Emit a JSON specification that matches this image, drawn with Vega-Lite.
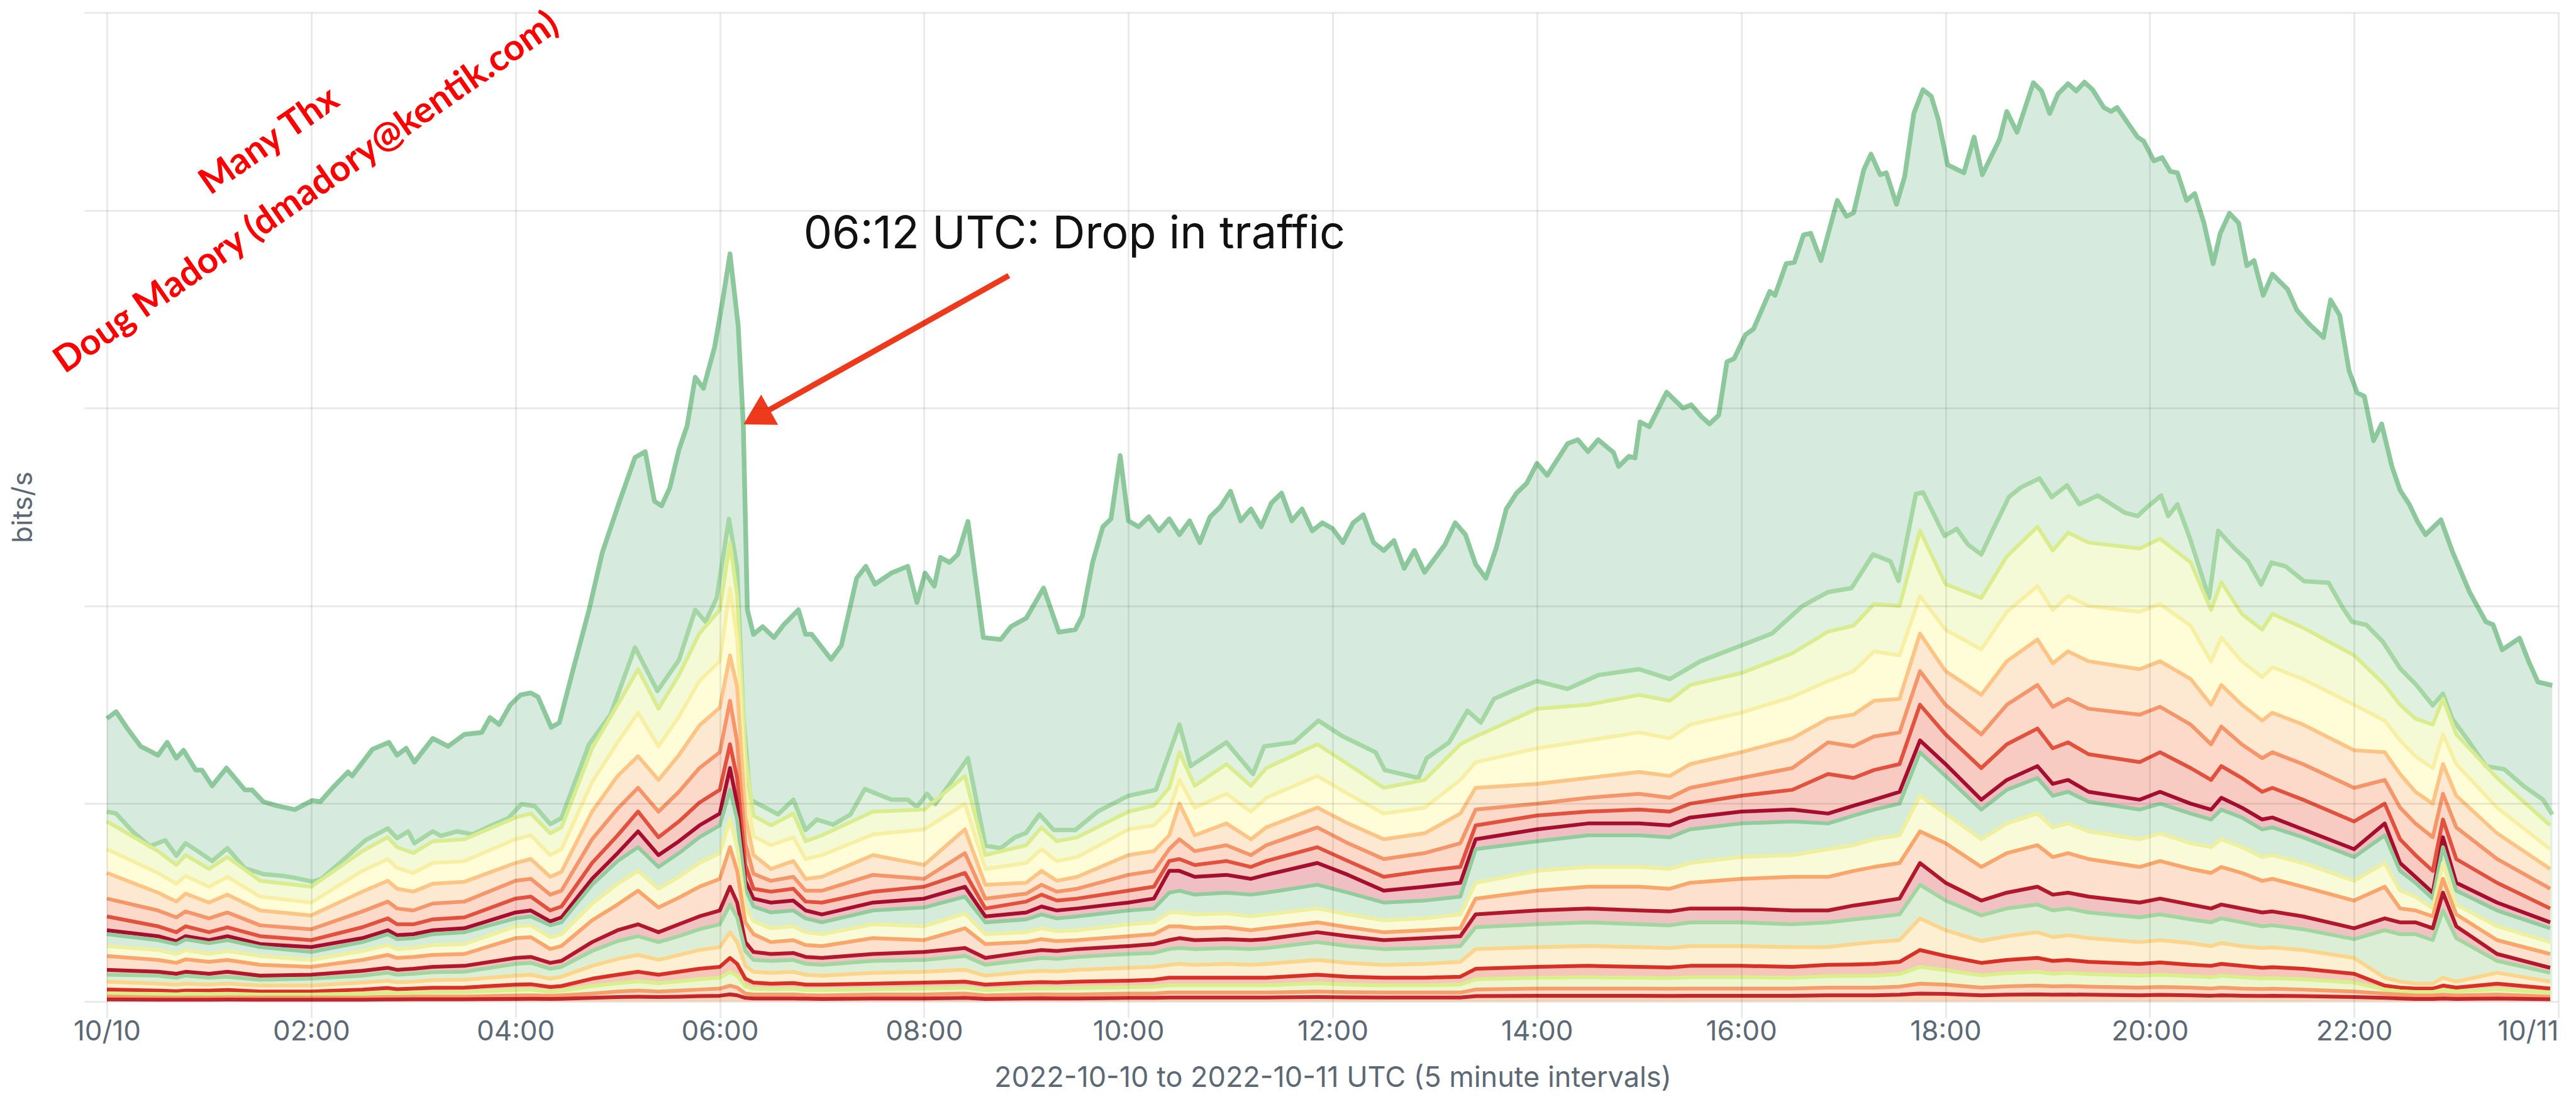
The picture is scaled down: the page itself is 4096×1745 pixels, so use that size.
{
"$schema":"https://vega.github.io/schema/vega-lite/v6.json",
"width":3898,"height":1573,
"autosize":{"type":"none"},
"padding":{"left":170,"top":20,"right":28,"bottom":152},
"background":"#ffffff",
"config":{"view":{"stroke":null}},
"datasets":{
"top":[{"h":0,"v":143},{"h":0.09,"v":146.5},{"h":0.2,"v":138},{"h":0.33,"v":129},{"h":0.5,"v":124.5},{"h":0.59,"v":131},{"h":0.68,"v":123},{"h":0.75,"v":127},{"h":0.87,"v":117},{"h":0.93,"v":117},{"h":1.03,"v":109},{"h":1.17,"v":118},{"h":1.35,"v":107},{"h":1.42,"v":107},{"h":1.53,"v":101},{"h":1.66,"v":99},{"h":1.84,"v":97},{"h":2.01,"v":101.6},{"h":2.09,"v":101},{"h":2.21,"v":108},{"h":2.36,"v":116},{"h":2.4,"v":114},{"h":2.6,"v":127.5},{"h":2.76,"v":131},{"h":2.84,"v":124.5},{"h":2.93,"v":128},{"h":3.01,"v":121},{"h":3.19,"v":133},{"h":3.34,"v":129},{"h":3.5,"v":135},{"h":3.67,"v":136},{"h":3.75,"v":143.5},{"h":3.84,"v":140},{"h":3.95,"v":150},{"h":4.05,"v":155},{"h":4.15,"v":156},{"h":4.22,"v":154},{"h":4.35,"v":138.6},{"h":4.43,"v":141},{"h":4.55,"v":165},{"h":4.72,"v":198},{"h":4.85,"v":227},{"h":5.02,"v":253},{"h":5.17,"v":275},{"h":5.27,"v":278},{"h":5.36,"v":253},{"h":5.43,"v":250.6},{"h":5.51,"v":259.6},{"h":5.6,"v":279},{"h":5.68,"v":291},{"h":5.76,"v":315.6},{"h":5.84,"v":310},{"h":5.95,"v":331},{"h":6.03,"v":355},{"h":6.1,"v":378},{"h":6.18,"v":341.7},{"h":6.23,"v":292},{"h":6.27,"v":198},{"h":6.33,"v":185.6},{"h":6.42,"v":189.5},{"h":6.53,"v":184},{"h":6.63,"v":190.7},{"h":6.77,"v":198},{"h":6.84,"v":185.6},{"h":6.9,"v":185.6},{"h":7.09,"v":173},{"h":7.19,"v":180},{"h":7.34,"v":214},{"h":7.43,"v":220},{"h":7.52,"v":211},{"h":7.68,"v":216.6},{"h":7.84,"v":220},{"h":7.93,"v":201.7},{"h":8.01,"v":216.6},{"h":8.1,"v":210},{"h":8.16,"v":224.5},{"h":8.25,"v":222},{"h":8.33,"v":226},{"h":8.43,"v":242.7},{"h":8.58,"v":184},{"h":8.75,"v":183},{"h":8.85,"v":189.5},{"h":9,"v":193.8},{"h":9.17,"v":209},{"h":9.32,"v":186.7},{"h":9.48,"v":188},{"h":9.55,"v":195},{"h":9.65,"v":222},{"h":9.75,"v":240},{"h":9.83,"v":244},{"h":9.92,"v":276},{"h":10,"v":243},{"h":10.1,"v":240},{"h":10.2,"v":245},{"h":10.3,"v":238},{"h":10.4,"v":244},{"h":10.5,"v":236},{"h":10.6,"v":243},{"h":10.7,"v":232},{"h":10.8,"v":245},{"h":10.9,"v":250},{"h":11,"v":258},{"h":11.1,"v":243},{"h":11.2,"v":249},{"h":11.3,"v":240},{"h":11.4,"v":252},{"h":11.5,"v":257},{"h":11.6,"v":243},{"h":11.7,"v":249},{"h":11.8,"v":238},{"h":11.9,"v":242},{"h":12,"v":239},{"h":12.1,"v":232},{"h":12.2,"v":242},{"h":12.3,"v":246},{"h":12.4,"v":232},{"h":12.5,"v":228},{"h":12.6,"v":233},{"h":12.7,"v":219},{"h":12.8,"v":228},{"h":12.9,"v":217},{"h":13,"v":224},{"h":13.1,"v":231},{"h":13.2,"v":242},{"h":13.3,"v":236},{"h":13.4,"v":221},{"h":13.5,"v":214},{"h":13.6,"v":229},{"h":13.7,"v":249},{"h":13.8,"v":257},{"h":13.9,"v":262},{"h":14,"v":272},{"h":14.1,"v":266},{"h":14.2,"v":274},{"h":14.3,"v":282},{"h":14.4,"v":284},{"h":14.5,"v":278},{"h":14.6,"v":284},{"h":14.75,"v":277.5},{"h":14.8,"v":270.5},{"h":14.9,"v":275.6},{"h":14.96,"v":274.8},{"h":15.01,"v":293},{"h":15.1,"v":290.6},{"h":15.27,"v":308},{"h":15.43,"v":300},{"h":15.51,"v":301.7},{"h":15.61,"v":295.7},{"h":15.69,"v":292},{"h":15.78,"v":296.5},{"h":15.86,"v":323.4},{"h":15.93,"v":325},{"h":16.04,"v":337},{"h":16.12,"v":340},{"h":16.28,"v":359},{"h":16.33,"v":357},{"h":16.44,"v":373},{"h":16.52,"v":373.7},{"h":16.61,"v":387.6},{"h":16.68,"v":388.4},{"h":16.78,"v":374.6},{"h":16.94,"v":405},{"h":17.03,"v":397},{"h":17.1,"v":398.7},{"h":17.2,"v":420.5},{"h":17.27,"v":428.4},{"h":17.36,"v":418},{"h":17.42,"v":419},{"h":17.52,"v":403},{"h":17.6,"v":417},{"h":17.69,"v":449},{"h":17.78,"v":461},{"h":17.86,"v":457.7},{"h":17.93,"v":445.8},{"h":18.02,"v":423},{"h":18.18,"v":419},{"h":18.28,"v":437},{"h":18.36,"v":418},{"h":18.53,"v":436},{"h":18.6,"v":450},{"h":18.7,"v":439.5},{"h":18.86,"v":464.5},{"h":18.94,"v":460.4},{"h":19.02,"v":449},{"h":19.1,"v":458.8},{"h":19.2,"v":464},{"h":19.28,"v":460.4},{"h":19.36,"v":464.8},{"h":19.44,"v":461},{"h":19.55,"v":452},{"h":19.62,"v":450},{"h":19.68,"v":452},{"h":19.88,"v":437},{"h":19.94,"v":435},{"h":20.04,"v":425},{"h":20.12,"v":426.7},{"h":20.2,"v":419.7},{"h":20.27,"v":419},{"h":20.36,"v":405},{"h":20.44,"v":408.5},{"h":20.53,"v":393.6},{"h":20.62,"v":373},{"h":20.69,"v":388.4},{"h":20.78,"v":398.5},{"h":20.87,"v":393.6},{"h":20.95,"v":372},{"h":21.02,"v":374.6},{"h":21.11,"v":357},{"h":21.2,"v":367.7},{"h":21.35,"v":360},{"h":21.44,"v":349.5},{"h":21.56,"v":342.5},{"h":21.7,"v":335.7},{"h":21.77,"v":354.7},{"h":21.86,"v":346.8},{"h":21.95,"v":319},{"h":22.03,"v":307.7},{"h":22.1,"v":306},{"h":22.19,"v":283.5},{"h":22.27,"v":292},{"h":22.37,"v":270.5},{"h":22.45,"v":258.5},{"h":22.54,"v":251.4},{"h":22.62,"v":242.7},{"h":22.7,"v":236},{"h":22.85,"v":243.5},{"h":22.96,"v":227.8},{"h":23.13,"v":207},{"h":23.29,"v":192},{"h":23.36,"v":190.5},{"h":23.45,"v":177.8},{"h":23.62,"v":183.7},{"h":23.71,"v":171.8},{"h":23.8,"v":161.5},{"h":23.94,"v":159.8}],
"sec":[{"h":0,"v":96},{"h":0.09,"v":95},{"h":0.25,"v":86},{"h":0.42,"v":78.5},{"h":0.57,"v":81.5},{"h":0.68,"v":73.7},{"h":0.77,"v":80},{"h":0.9,"v":75.6},{"h":1.03,"v":71},{"h":1.18,"v":77.5},{"h":1.35,"v":67.4},{"h":1.53,"v":64.4},{"h":1.71,"v":63.6},{"h":1.84,"v":62.5},{"h":2.01,"v":60.6},{"h":2.1,"v":62},{"h":2.27,"v":69.6},{"h":2.36,"v":73.7},{"h":2.53,"v":81.5},{"h":2.75,"v":87.5},{"h":2.84,"v":82.6},{"h":2.95,"v":86},{"h":3.01,"v":80},{"h":3.19,"v":86},{"h":3.27,"v":83.7},{"h":3.43,"v":86},{"h":3.58,"v":84.5},{"h":3.75,"v":88.6},{"h":3.93,"v":92.7},{"h":4.06,"v":99.8},{"h":4.19,"v":98.7},{"h":4.34,"v":89.7},{"h":4.45,"v":92.7},{"h":4.72,"v":130},{"h":4.93,"v":145},{"h":5.17,"v":179},{"h":5.39,"v":157},{"h":5.6,"v":172.6},{"h":5.76,"v":198},{"h":5.86,"v":192},{"h":5.97,"v":204},{"h":6.09,"v":244},{"h":6.17,"v":219},{"h":6.23,"v":144},{"h":6.3,"v":102},{"h":6.57,"v":94.6},{"h":6.72,"v":102},{"h":6.84,"v":86.7},{"h":6.95,"v":92},{"h":7.11,"v":89.4},{"h":7.28,"v":94.6},{"h":7.42,"v":107.4},{"h":7.68,"v":102},{"h":7.84,"v":102},{"h":7.93,"v":98.4},{"h":8.03,"v":105},{"h":8.11,"v":99.8},{"h":8.43,"v":123},{"h":8.6,"v":78.8},{"h":8.75,"v":77.5},{"h":8.89,"v":83},{"h":9,"v":85.3},{"h":9.13,"v":94.6},{"h":9.27,"v":86.7},{"h":9.48,"v":86.7},{"h":9.7,"v":96},{"h":10,"v":104},{"h":10.27,"v":107},{"h":10.5,"v":140},{"h":10.61,"v":119},{"h":10.96,"v":131},{"h":11.22,"v":115},{"h":11.33,"v":129},{"h":11.62,"v":131},{"h":11.86,"v":142},{"h":12.1,"v":134},{"h":12.42,"v":126},{"h":12.51,"v":117},{"h":12.84,"v":113},{"h":12.92,"v":123},{"h":13.14,"v":131},{"h":13.32,"v":147},{"h":13.45,"v":141},{"h":13.58,"v":153},{"h":13.8,"v":158},{"h":14,"v":162},{"h":14.3,"v":158},{"h":14.6,"v":165},{"h":15,"v":168},{"h":15.3,"v":163},{"h":15.6,"v":172},{"h":16,"v":180},{"h":16.3,"v":186},{"h":16.6,"v":200},{"h":16.85,"v":207},{"h":17.08,"v":209},{"h":17.29,"v":226},{"h":17.46,"v":222.6},{"h":17.54,"v":212.6},{"h":17.71,"v":256.6},{"h":17.78,"v":257.4},{"h":17.99,"v":235.4},{"h":18.11,"v":239},{"h":18.22,"v":231},{"h":18.35,"v":226},{"h":18.46,"v":238},{"h":18.62,"v":255},{"h":18.74,"v":260},{"h":18.92,"v":264.5},{"h":19.04,"v":255},{"h":19.19,"v":261},{"h":19.31,"v":251.4},{"h":19.49,"v":255.8},{"h":19.76,"v":247},{"h":19.88,"v":245.4},{"h":19.97,"v":249.8},{"h":20.11,"v":255.8},{"h":20.18,"v":245.4},{"h":20.27,"v":251.4},{"h":20.39,"v":234.6},{"h":20.58,"v":204},{"h":20.67,"v":238},{"h":20.82,"v":229.5},{"h":20.96,"v":222.7},{"h":21.09,"v":210.8},{"h":21.19,"v":221.9},{"h":21.33,"v":220},{"h":21.51,"v":212.5},{"h":21.75,"v":211.7},{"h":21.89,"v":199},{"h":21.98,"v":192},{"h":22.12,"v":190.4},{"h":22.28,"v":182},{"h":22.45,"v":168.4},{"h":22.61,"v":160},{"h":22.77,"v":149.7},{"h":22.87,"v":155.6},{"h":22.96,"v":143},{"h":23.13,"v":131},{"h":23.29,"v":119},{"h":23.47,"v":117.4},{"h":23.66,"v":108.9},{"h":23.85,"v":102},{"h":23.94,"v":94.5}],
"bands":[
{"h":0,"s03":91,"s04":77,"s05":65,"s06":52,"s07":43,"s08":36,"s09":34,"s10":28,"s11":23,"s12":16,"s13":13.5,"s14":10,"s15":6,"s16":4,"s17":2.5,"s18":1},
{"h":0.5,"s03":76,"s04":65,"s05":55,"s06":46,"s07":38,"s08":33,"s09":31,"s10":26,"s11":21,"s12":15,"s13":13,"s14":9,"s15":5.5,"s16":3.8,"s17":2,"s18":0.9},
{"h":0.68,"s03":69,"s04":59.5,"s05":50.5,"s06":42.5,"s07":35,"s08":30.5,"s09":29,"s10":24,"s11":19.5,"s12":14,"s13":12,"s14":8.4,"s15":5.2,"s16":3.6,"s17":1.9,"s18":0.85},
{"h":0.77,"s03":74,"s04":63.5,"s05":54.5,"s06":45.5,"s07":38,"s08":33,"s09":31.4,"s10":26,"s11":21.3,"s12":15,"s13":13,"s14":9,"s15":5.5,"s16":3.9,"s17":2,"s18":0.9},
{"h":1,"s03":67,"s04":58,"s05":50,"s06":42,"s07":35,"s08":31,"s09":29.5,"s10":24,"s11":20,"s12":14,"s13":12,"s14":8.5,"s15":5.5,"s16":3.7,"s17":2,"s18":0.9},
{"h":1.18,"s03":73,"s04":63,"s05":54,"s06":45,"s07":37.5,"s08":33,"s09":31,"s10":25.5,"s11":21,"s12":15,"s13":12.5,"s14":9,"s15":5.8,"s16":3.9,"s17":2.1,"s18":0.95},
{"h":1.5,"s03":61,"s04":53,"s05":46,"s06":38.5,"s07":33,"s08":29,"s09":27.5,"s10":23,"s11":18.5,"s12":13,"s13":11,"s14":8,"s15":5,"s16":3.5,"s17":2,"s18":0.9},
{"h":2,"s03":58,"s04":50,"s05":43.5,"s06":36.5,"s07":31,"s08":27.5,"s09":25,"s10":21,"s11":17.5,"s12":13.5,"s13":11.5,"s14":8,"s15":5,"s16":3.5,"s17":2,"s18":0.9},
{"h":2.5,"s03":76,"s04":66,"s05":55.5,"s06":45.5,"s07":37.5,"s08":32,"s09":30,"s10":25.5,"s11":21,"s12":15.5,"s13":13,"s14":9.5,"s15":6,"s16":4,"s17":2,"s18":0.9},
{"h":2.75,"s03":83,"s04":72,"s05":61,"s06":50.5,"s07":42,"s08":36,"s09":34,"s10":28.5,"s11":23.5,"s12":17,"s13":14.5,"s14":10.5,"s15":6.8,"s16":4.6,"s17":2.4,"s18":1},
{"h":2.84,"s03":78,"s04":67.5,"s05":57,"s06":47,"s07":39,"s08":33.5,"s09":31.5,"s10":26.5,"s11":22,"s12":16,"s13":13.5,"s14":9.7,"s15":6.2,"s16":4.2,"s17":2.2,"s18":1},
{"h":3,"s03":75,"s04":65,"s05":55.5,"s06":46,"s07":39,"s08":34,"s09":32,"s10":27,"s11":22.5,"s12":16.5,"s13":14,"s14":10,"s15":6.5,"s16":4.5,"s17":2.5,"s18":1.1},
{"h":3.19,"s03":81,"s04":70,"s05":59.5,"s06":49.5,"s07":41.5,"s08":36,"s09":34,"s10":28.5,"s11":23.5,"s12":17.5,"s13":14.8,"s14":10.8,"s15":6.9,"s16":4.7,"s17":2.5,"s18":1.1},
{"h":3.5,"s03":82,"s04":71,"s05":60.5,"s06":50.5,"s07":42.5,"s08":37,"s09":35,"s10":29,"s11":24,"s12":18,"s13":15,"s14":11,"s15":7,"s16":4.8,"s17":2.5,"s18":1.1},
{"h":4,"s03":93,"s04":82,"s05":70,"s06":61,"s07":52,"s08":45,"s09":42,"s10":38,"s11":32,"s12":22,"s13":19,"s14":13,"s15":8.5,"s16":5.8,"s17":3,"s18":1.3},
{"h":4.15,"s03":95,"s04":84,"s05":72,"s06":62,"s07":53,"s08":46,"s09":43,"s10":38.5,"s11":32.5,"s12":22.5,"s13":19.5,"s14":13.5,"s15":8.7,"s16":6,"s17":3.1,"s18":1.35},
{"h":4.34,"s03":85,"s04":74,"s05":63,"s06":54,"s07":46,"s08":40.5,"s09":38.5,"s10":32.5,"s11":26.5,"s12":19.5,"s13":16.5,"s14":11.5,"s15":7.3,"s16":5,"s17":2.9,"s18":1.25},
{"h":4.45,"s03":88,"s04":77,"s05":65.5,"s06":56,"s07":48,"s08":42.5,"s09":40,"s10":34,"s11":28,"s12":20.5,"s13":17.5,"s14":12.5,"s15":7.8,"s16":5.4,"s17":3.1,"s18":1.35},
{"h":4.75,"s03":128,"s04":111,"s05":96,"s06":82,"s07":70,"s08":62,"s09":59,"s10":49.5,"s11":41,"s12":30,"s13":25.5,"s14":18,"s15":11.5,"s16":7.8,"s17":4,"s18":1.8},
{"h":5,"s03":150,"s04":131,"s05":114,"s06":97.5,"s07":84,"s08":75,"s09":71,"s10":59.5,"s11":49,"s12":36,"s13":30.5,"s14":21.5,"s15":13.5,"s16":9.2,"s17":5,"s18":2.2},
{"h":5.2,"s03":168,"s04":146,"s05":124,"s06":108,"s07":96,"s08":86,"s09":78,"s10":66,"s11":56,"s12":39,"s13":33,"s14":23.5,"s15":15,"s16":10.2,"s17":5.5,"s18":2.4},
{"h":5.4,"s03":148,"s04":129,"s05":112,"s06":96,"s07":83,"s08":74,"s09":68,"s10":57,"s11":47.5,"s12":35,"s13":30,"s14":21,"s15":13.5,"s16":9.2,"s17":5,"s18":2.2},
{"h":5.6,"s03":165,"s04":144,"s05":124.5,"s06":106,"s07":91,"s08":81,"s09":75,"s10":63,"s11":52.5,"s12":39,"s13":33,"s14":23.5,"s15":15,"s16":10.2,"s17":5.5,"s18":2.4},
{"h":5.8,"s03":186,"s04":162,"s05":139.5,"s06":118,"s07":100.5,"s08":89,"s09":83,"s10":70,"s11":58,"s12":43,"s13":36.5,"s14":26,"s15":16.5,"s16":11.2,"s17":6,"s18":2.7},
{"h":6,"s03":198,"s04":172,"s05":148.5,"s06":126,"s07":107,"s08":95,"s09":89,"s10":75,"s11":62,"s12":46,"s13":39,"s14":27.5,"s15":17.5,"s16":12,"s17":6.5,"s18":2.9},
{"h":6.1,"s03":232,"s04":209,"s05":175,"s06":152,"s07":130,"s08":118,"s09":107,"s10":92,"s11":78,"s12":58,"s13":49,"s14":35,"s15":22,"s16":15,"s17":8,"s18":3.6},
{"h":6.17,"s03":205,"s04":183,"s05":159,"s06":131,"s07":113,"s08":100,"s09":92,"s10":78,"s11":66,"s12":50,"s13":42.5,"s14":30,"s15":19,"s16":13,"s17":7,"s18":3.1},
{"h":6.25,"s03":125,"s04":109,"s05":94,"s06":80,"s07":69,"s08":61,"s09":57,"s10":48,"s11":40,"s12":30,"s13":25.5,"s14":18,"s15":11.5,"s16":7.8,"s17":4,"s18":1.8},
{"h":6.33,"s03":94,"s04":83.5,"s05":74,"s06":64.5,"s07":57,"s08":52,"s09":48,"s10":40.5,"s11":34,"s12":25,"s13":21,"s14":15,"s15":9.5,"s16":6.5,"s17":3.5,"s18":1.5},
{"h":6.5,"s03":89,"s04":79,"s05":67,"s06":61,"s07":55.5,"s08":50,"s09":45,"s10":37,"s11":30,"s12":24,"s13":20.5,"s14":14.5,"s15":9,"s16":6.2,"s17":3.5,"s18":1.5},
{"h":6.72,"s03":95,"s04":83,"s05":71,"s06":63,"s07":57,"s08":51,"s09":46,"s10":38,"s11":31,"s12":24.5,"s13":21,"s14":15,"s15":9.3,"s16":6.4,"s17":3.5,"s18":1.5},
{"h":6.84,"s03":81,"s04":72,"s05":62,"s06":56,"s07":50.5,"s08":46,"s09":42,"s10":35,"s11":28.5,"s12":22.5,"s13":19,"s14":13.5,"s15":8.5,"s16":5.9,"s17":3.2,"s18":1.4},
{"h":7,"s03":84,"s04":74,"s05":63,"s06":56,"s07":50,"s08":44,"s09":40,"s10":34,"s11":28,"s12":22,"s13":18.5,"s14":13,"s15":8.5,"s16":5.8,"s17":3,"s18":1.3},
{"h":7.5,"s03":96,"s04":84.5,"s05":74,"s06":64,"s07":55.5,"s08":50,"s09":46,"s10":39,"s11":32,"s12":24,"s13":20.5,"s14":14.5,"s15":9,"s16":6.2,"s17":3.5,"s18":1.5},
{"h":8,"s03":97,"s04":87,"s05":69,"s06":62,"s07":58,"s08":52,"s09":47.5,"s10":38,"s11":31,"s12":25,"s13":21,"s14":15,"s15":9.5,"s16":6.5,"s17":3.5,"s18":1.5},
{"h":8.4,"s03":114,"s04":100,"s05":87,"s06":75,"s07":65,"s08":58,"s09":53,"s10":44.5,"s11":37,"s12":27,"s13":23,"s14":16,"s15":10,"s16":7,"s17":4,"s18":1.8},
{"h":8.6,"s03":74,"s04":67,"s05":59,"s06":52,"s07":47,"s08":43,"s09":40,"s10":34,"s11":29,"s12":22,"s13":18.5,"s14":13,"s15":8.5,"s16":5.8,"s17":3,"s18":1.3},
{"h":9,"s03":79,"s04":70,"s05":60,"s06":54.5,"s07":50.5,"s08":45,"s09":41.5,"s10":35,"s11":30,"s12":25,"s13":21,"s14":15,"s15":9.5,"s16":6.5,"s17":3.5,"s18":1.5},
{"h":9.15,"s03":88,"s04":77,"s05":66,"s06":59,"s07":54,"s08":48,"s09":44,"s10":37,"s11":31.5,"s12":26,"s13":22,"s14":15.5,"s15":9.8,"s16":6.7,"s17":3.6,"s18":1.6},
{"h":9.3,"s03":81,"s04":71,"s05":61,"s06":55.5,"s07":51,"s08":46,"s09":42,"s10":35.5,"s11":30.5,"s12":25.5,"s13":21.5,"s14":15.2,"s15":9.6,"s16":6.6,"s17":3.5,"s18":1.5},
{"h":9.5,"s03":83,"s04":73,"s05":63,"s06":57,"s07":52,"s08":47,"s09":43,"s10":36,"s11":31,"s12":26.5,"s13":22.5,"s14":16,"s15":10,"s16":6.8,"s17":3.5,"s18":1.5},
{"h":10,"s03":96,"s04":87,"s05":74,"s06":64,"s07":56,"s08":50,"s09":46,"s10":39,"s11":33,"s12":28,"s13":24,"s14":17,"s15":10.5,"s16":7.2,"s17":4,"s18":1.8},
{"h":10.25,"s03":99,"s04":89,"s05":76,"s06":66,"s07":58,"s08":52,"s09":47,"s10":40,"s11":34,"s12":29,"s13":24.5,"s14":17.5,"s15":11,"s16":7.5,"s17":4,"s18":1.8},
{"h":10.4,"s03":108,"s04":97,"s05":84,"s06":77,"s07":71,"s08":66,"s09":55,"s10":45,"s11":38,"s12":31,"s13":26.5,"s14":18.5,"s15":12,"s16":8.2,"s17":4.5,"s18":2},
{"h":10.5,"s03":126,"s04":112,"s05":100,"s06":82,"s07":72,"s08":66,"s09":56,"s10":45,"s11":38,"s12":32,"s13":27,"s14":19,"s15":12,"s16":8.2,"s17":4.5,"s18":2},
{"h":10.65,"s03":109,"s04":98,"s05":84,"s06":76,"s07":69,"s08":63,"s09":54,"s10":44,"s11":37,"s12":31,"s13":26.5,"s14":18.5,"s15":12,"s16":8.2,"s17":4.5,"s18":2},
{"h":10.96,"s03":120,"s04":105,"s05":90,"s06":79,"s07":71,"s08":64,"s09":55,"s10":44.5,"s11":37.5,"s12":31.5,"s13":27,"s14":19,"s15":12,"s16":8.2,"s17":4.5,"s18":2},
{"h":11.2,"s03":109,"s04":96,"s05":82,"s06":74,"s07":68,"s08":62,"s09":54,"s10":43,"s11":36,"s12":31,"s13":26.5,"s14":18.5,"s15":12,"s16":8.2,"s17":4.5,"s18":2},
{"h":11.35,"s03":118,"s04":103,"s05":88,"s06":79,"s07":71,"s08":64,"s09":55,"s10":44,"s11":37,"s12":31.5,"s13":27,"s14":19,"s15":12,"s16":8.2,"s17":4.5,"s18":2},
{"h":11.85,"s03":130,"s04":114,"s05":98,"s06":88,"s07":78,"s08":70,"s09":59,"s10":47,"s11":40,"s12":35,"s13":30,"s14":21,"s15":13.5,"s16":9.2,"s17":5,"s18":2.2},
{"h":12.15,"s03":120,"s04":105,"s05":90,"s06":80,"s07":71,"s08":64,"s09":55,"s10":44,"s11":37.5,"s12":33,"s13":28,"s14":19.5,"s15":12.5,"s16":8.5,"s17":4.7,"s18":2.1},
{"h":12.5,"s03":108,"s04":95,"s05":82,"s06":72,"s07":63,"s08":56,"s09":50,"s10":41,"s11":35,"s12":31,"s13":26.5,"s14":18.5,"s15":12,"s16":8.2,"s17":4.5,"s18":2},
{"h":12.9,"s03":112,"s04":98,"s05":85,"s06":75,"s07":66,"s08":58,"s09":51,"s10":42,"s11":36,"s12":32,"s13":27,"s14":19,"s15":12,"s16":8.2,"s17":4.5,"s18":2},
{"h":13.25,"s03":130,"s04":112,"s05":95,"s06":80,"s07":68,"s08":60,"s09":53,"s10":44,"s11":37,"s12":33,"s13":28,"s14":20,"s15":12.5,"s16":8.5,"s17":4.5,"s18":2},
{"h":13.4,"s03":134,"s04":121,"s05":108,"s06":97,"s07":89,"s08":82,"s09":77,"s10":60,"s11":52,"s12":44,"s13":37.5,"s14":26.5,"s15":16.5,"s16":11.2,"s17":6,"s18":2.7},
{"h":14,"s03":148,"s04":128,"s05":110,"s06":100,"s07":94,"s08":87,"s09":81,"s10":66,"s11":56,"s12":46,"s13":39,"s14":27.5,"s15":17.5,"s16":12,"s17":6.5,"s18":2.9},
{"h":14.5,"s03":150,"s04":132,"s05":113,"s06":103,"s07":96,"s08":90,"s09":84,"s10":68,"s11":58,"s12":47,"s13":40,"s14":28,"s15":18,"s16":12.2,"s17":6.5,"s18":2.9},
{"h":15,"s03":155,"s04":136,"s05":116,"s06":105,"s07":97,"s08":90,"s09":84,"s10":68,"s11":58,"s12":46,"s13":39,"s14":27.5,"s15":17.5,"s16":12,"s17":6.5,"s18":2.9},
{"h":15.3,"s03":152,"s04":133,"s05":114,"s06":103,"s07":96,"s08":89,"s09":83,"s10":67,"s11":57,"s12":45.5,"s13":38.5,"s14":27,"s15":17.2,"s16":11.8,"s17":6.4,"s18":2.8},
{"h":15.5,"s03":160,"s04":140,"s05":120,"s06":108,"s07":100,"s08":93,"s09":87,"s10":70,"s11":60,"s12":47,"s13":40,"s14":28,"s15":18,"s16":12.2,"s17":6.5,"s18":2.9},
{"h":16,"s03":166,"s04":146,"s05":126,"s06":113,"s07":104,"s08":96,"s09":90,"s10":73,"s11":62,"s12":47,"s13":40,"s14":28,"s15":18,"s16":12.2,"s17":6.5,"s18":2.9},
{"h":16.5,"s03":176,"s04":154,"s05":133,"s06":118,"s07":107,"s08":97,"s09":91,"s10":74,"s11":63,"s12":46,"s13":39,"s14":27.5,"s15":17.5,"s16":12,"s17":6.5,"s18":2.9},
{"h":16.85,"s03":187,"s04":162,"s05":143,"s06":131,"s07":115,"s08":95,"s09":90,"s10":77,"s11":63,"s12":46,"s13":40,"s14":27.5,"s15":18.5,"s16":12.8,"s17":7,"s18":3.1},
{"h":17.1,"s03":190,"s04":167,"s05":145,"s06":129,"s07":113,"s08":99,"s09":94,"s10":79,"s11":66,"s12":48.5,"s13":41.5,"s14":29,"s15":18.7,"s16":12.9,"s17":7,"s18":3.1},
{"h":17.3,"s03":201,"s04":177,"s05":152,"s06":134,"s07":117,"s08":102,"s09":97,"s10":82,"s11":68,"s12":50,"s13":42.5,"s14":30,"s15":19,"s16":13,"s17":7,"s18":3.1},
{"h":17.55,"s03":200,"s04":175,"s05":153,"s06":136,"s07":120,"s08":106,"s09":100,"s10":84,"s11":70,"s12":52,"s13":44,"s14":31,"s15":20,"s16":13.8,"s17":7.5,"s18":3.4},
{"h":17.75,"s03":238,"s04":205,"s05":186,"s06":167,"s07":150,"s08":132,"s09":126,"s10":104,"s11":86,"s12":70,"s13":59,"s14":42,"s15":26,"s16":17.5,"s17":9,"s18":4},
{"h":18,"s03":211,"s04":188,"s05":167,"s06":150,"s07":135,"s08":120,"s09":114,"s10":95,"s11":80,"s12":60,"s13":51,"s14":36,"s15":23,"s16":15.8,"s17":8.5,"s18":3.8},
{"h":18.35,"s03":204,"s04":178,"s05":155,"s06":135,"s07":118,"s08":102,"s09":97,"s10":82,"s11":68,"s12":51,"s13":43.5,"s14":30.5,"s15":19.5,"s16":13.2,"s17":7,"s18":3.1},
{"h":18.6,"s03":225,"s04":197,"s05":172,"s06":150,"s07":130,"s08":112,"s09":107,"s10":90,"s11":75,"s12":55,"s13":47,"s14":33,"s15":21,"s16":14.3,"s17":7.6,"s18":3.4},
{"h":18.9,"s03":240,"s04":210,"s05":183,"s06":160,"s07":138,"s08":119,"s09":113,"s10":95,"s11":79,"s12":58,"s13":49,"s14":35,"s15":22,"s16":15,"s17":8,"s18":3.6},
{"h":19.05,"s03":228,"s04":198,"s05":171,"s06":149,"s07":128,"s08":110,"s09":104,"s10":88,"s11":73,"s12":54,"s13":46,"s14":32.5,"s15":20.5,"s16":14,"s17":7.6,"s18":3.4},
{"h":19.2,"s03":237,"s04":205,"s05":177,"s06":153,"s07":131,"s08":112,"s09":106,"s10":90,"s11":75,"s12":55,"s13":47,"s14":33.5,"s15":21,"s16":14.5,"s17":7.8,"s18":3.5},
{"h":19.4,"s03":232,"s04":200,"s05":172,"s06":148,"s07":125,"s08":106,"s09":101,"s10":86,"s11":72,"s12":53,"s13":45,"s14":32,"s15":20,"s16":13.8,"s17":7.5,"s18":3.4},
{"h":19.9,"s03":229,"s04":197,"s05":168,"s06":145,"s07":121,"s08":102,"s09":97,"s10":82,"s11":68,"s12":50,"s13":42.5,"s14":30,"s15":19,"s16":13,"s17":7,"s18":3.1},
{"h":20.1,"s03":234,"s04":201,"s05":172,"s06":149,"s07":126,"s08":106,"s09":100,"s10":85,"s11":71,"s12":52,"s13":44,"s14":31,"s15":19.7,"s16":13.5,"s17":7.3,"s18":3.3},
{"h":20.4,"s03":222,"s04":190,"s05":163,"s06":140,"s07":118,"s08":100,"s09":95,"s10":80,"s11":67,"s12":49,"s13":41.5,"s14":29.5,"s15":18.5,"s16":12.8,"s17":7,"s18":3.1},
{"h":20.6,"s03":198,"s04":172,"s05":150,"s06":130,"s07":112,"s08":97,"s09":92,"s10":78,"s11":65,"s12":47,"s13":40,"s14":28,"s15":18,"s16":12.2,"s17":6.5,"s18":2.9},
{"h":20.7,"s03":212,"s04":184,"s05":160,"s06":139,"s07":119,"s08":103,"s09":97,"s10":82,"s11":68,"s12":49,"s13":42,"s14":29.5,"s15":19,"s16":13,"s17":7,"s18":3.1},
{"h":20.9,"s03":196,"s04":172,"s05":150,"s06":130,"s07":113,"s08":98,"s09":93,"s10":78,"s11":65,"s12":47,"s13":40,"s14":28,"s15":18,"s16":12.2,"s17":6.5,"s18":2.9},
{"h":21.1,"s03":188,"s04":164,"s05":142,"s06":123,"s07":106,"s08":92,"s09":87,"s10":73,"s11":61,"s12":45,"s13":38,"s14":27,"s15":17,"s16":11.6,"s17":6.3,"s18":2.8},
{"h":21.2,"s03":196,"s04":169,"s05":146,"s06":126,"s07":108,"s08":93,"s09":88,"s10":74,"s11":62,"s12":45.5,"s13":38.5,"s14":27.3,"s15":17.3,"s16":11.8,"s17":6.4,"s18":2.9},
{"h":21.5,"s03":189,"s04":163,"s05":140,"s06":120,"s07":102,"s08":87,"s09":83,"s10":70,"s11":58,"s12":43,"s13":36.5,"s14":26,"s15":16.5,"s16":11.2,"s17":6,"s18":2.7},
{"h":22,"s03":175,"s04":150,"s05":127,"s06":108,"s07":91,"s08":77,"s09":73,"s10":61,"s11":51,"s12":37,"s13":31.5,"s14":22,"s15":14,"s16":9.5,"s17":5,"s18":2.2},
{"h":22.3,"s03":160,"s04":142,"s05":126,"s06":112,"s07":100,"s08":90,"s09":84,"s10":70,"s11":58,"s12":42,"s13":36,"s14":12,"s15":8,"s16":6,"s17":4,"s18":1.8},
{"h":22.45,"s03":150,"s04":132,"s05":115,"s06":98,"s07":82,"s08":70,"s09":66,"s10":56,"s11":47,"s12":40,"s13":34,"s14":10,"s15":7,"s16":5.2,"s17":3.5,"s18":1.5},
{"h":22.6,"s03":143,"s04":124,"s05":106,"s06":90,"s07":74,"s08":63,"s09":60,"s10":53,"s11":46,"s12":40,"s13":34,"s14":9,"s15":6.5,"s16":4.8,"s17":3,"s18":1.3},
{"h":22.77,"s03":140,"s04":118,"s05":100,"s06":83,"s07":66,"s08":55,"s09":52,"s10":47,"s11":43,"s12":37,"s13":31,"s14":9,"s15":6.5,"s16":4.8,"s17":3,"s18":1.3},
{"h":22.87,"s03":153,"s04":135,"s05":120,"s06":105,"s07":92,"s08":83,"s09":78,"s10":70,"s11":62,"s12":55,"s13":46,"s14":12,"s15":8,"s16":5.8,"s17":3.5,"s18":1.5},
{"h":23,"s03":135,"s04":120,"s05":104,"s06":88,"s07":72,"s08":60,"s09":56,"s10":49,"s11":44,"s12":38,"s13":32,"s14":10,"s15":7,"s16":5,"s17":3,"s18":1.3},
{"h":23.4,"s03":113,"s04":98,"s05":85,"s06":72,"s07":60,"s08":50,"s09":46,"s10":38,"s11":31,"s12":24,"s13":20.5,"s14":14.5,"s15":9,"s16":6.2,"s17":3.5,"s18":1.5},
{"h":23.92,"s03":89,"s04":77,"s05":67,"s06":57,"s07":47,"s08":40,"s09":37,"s10":30,"s11":24,"s12":17,"s13":14.5,"s14":10,"s15":6.5,"s16":4.5,"s17":2.5,"s18":1.1}
]},
"encoding":{
"x":{"field":"h","type":"quantitative","scale":{"domain":[0,24],"nice":false,"zero":false},
"axis":{"values":[0,2,4,6,8,10,12,14,16,18,20,22,24],"labelExpr":"datum.value == 0 ? '10/10' : datum.value == 24 ? '10/11' : (datum.value < 10 ? '0' : '') + datum.value + ':00'","labelAlign":{"condition":{"test":"datum.value == 24","value":"right"},"value":"center"},"labelFont":"Inter","labelFontSize":44,"labelColor":"#5d6875","labelPadding":0,"labelFlush":false,"labelOverlap":false,"tickSize":26,"tickColor":"#000000","tickOpacity":0.08,"tickWidth":3,"grid":true,"gridColor":"#000000","gridOpacity":0.08,"gridWidth":3,"domain":false,"title":"2022-10-10 to 2022-10-11 UTC (5 minute intervals)","titleFont":"Inter","titleFontSize":45,"titleFontWeight":"normal","titleColor":"#5d6875","titlePadding":29,"zindex":1}},
"y":{"field":"v","type":"quantitative","stack":null,"scale":{"domain":[0,500],"nice":false},
"axis":{"values":[0,100,200,300,400,500],"labels":false,"tickSize":36,"tickColor":"#000000","tickOpacity":0.08,"tickWidth":3,"grid":true,"gridColor":"#000000","gridOpacity":0.08,"gridWidth":3,"domain":false,"title":"bits/s","titleFont":"Inter","titleFontSize":44,"titleFontWeight":"normal","titleColor":"#5d6875","titlePadding":73,"zindex":1}}
},
"layer":[
{"data":{"name":"top"},"mark":{"type":"area","color":"#d6ebde","interpolate":"linear"}},
{"data":{"name":"sec"},"mark":{"type":"area","color":"#e0f1df","interpolate":"linear"}},
{"data":{"name":"bands"},"transform":[{"fold":["s03","s04","s05","s06","s07","s08","s09","s10","s11","s12","s13","s14","s15","s16","s17","s18"],"as":["k","v"]}],"mark":{"type":"area","interpolate":"linear"},
"encoding":{"fill":{"field":"k","type":"nominal","legend":null,"scale":{"domain":["s03","s04","s05","s06","s07","s08","s09","s10","s11","s12","s13","s14","s15","s16","s17","s18"],"range":["#f4f9d6","#fffcd8","#fde9d2","#fcd9c8","#f8cbc2","#efbfc4","#d5ecda","#f8fad8","#fde0cd","#f0c2c2","#dcefd6","#fdefd2","#f6c6ba","#eef6d0","#fbdcc6","#fbd3b5"]}}}},
{"data":{"name":"top"},"mark":{"type":"line","color":"#8cc89b","strokeWidth":7.5,"strokeJoin":"round","interpolate":"linear"}},
{"data":{"name":"sec"},"mark":{"type":"line","color":"#a5d7a5","strokeWidth":7,"strokeJoin":"round","interpolate":"linear"}},
{"data":{"name":"bands"},"transform":[{"fold":["s03","s04","s05","s06","s07","s08","s09","s10","s11","s12","s13","s14","s15","s16","s17","s18"],"as":["k","v"]}],"mark":{"type":"line","strokeJoin":"round","interpolate":"linear"},
"encoding":{"stroke":{"field":"k","type":"nominal","legend":null,"scale":{"domain":["s03","s04","s05","s06","s07","s08","s09","s10","s11","s12","s13","s14","s15","s16","s17","s18"],"range":["#d9ec8e","#f7f0a4","#fcc585","#f5956a","#e2513e","#a50f2d","#92cc9c","#eef0a0","#f9a66c","#b2182b","#a2d6a0","#fbd58c","#d73027","#d9ef8b","#f59e6b","#c1272d"]}},
"strokeWidth":{"field":"k","type":"nominal","legend":null,"scale":{"domain":["s03","s04","s05","s06","s07","s08","s09","s10","s11","s12","s13","s14","s15","s16","s17","s18"],"range":[6,6,7,7,7,9,7,6,7,8,6,6,7,5,6,6]}}}},
{"data":{"values":[{"h":8.83,"v":367,"h2":6.36,"v2":295.5}]},"mark":{"type":"rule","color":"#ee3a1c","strokeWidth":9},"encoding":{"x2":{"field":"h2"},"y2":{"field":"v2"}}},
{"data":{"values":[{"h":6.36,"v":295.5}]},"mark":{"type":"point","shape":"triangle-up","size":3025,"angle":240.7,"filled":true,"color":"#ee3a1c","opacity":1,"strokeWidth":0}},
{"data":{"values":[{"h":6.82,"v":380.8,"label":"06:12 UTC: Drop in traffic"}]},"mark":{"type":"text","align":"left","baseline":"alphabetic","font":"Inter","fontSize":72,"color":"#111111"},"encoding":{"text":{"field":"label"}}},
{"data":{"values":[{"h":1.592,"v":434.9,"label":"Many Thx"},{"h":1.955,"v":408.7,"label":"Doug Madory (dmadory@kentik.com)"}]},"mark":{"type":"text","align":"center","baseline":"middle","angle":325.2,"font":"Lato","fontWeight":"bold","fontSize":58,"color":"#ff0000"},"encoding":{"text":{"field":"label"}}}
]
}
